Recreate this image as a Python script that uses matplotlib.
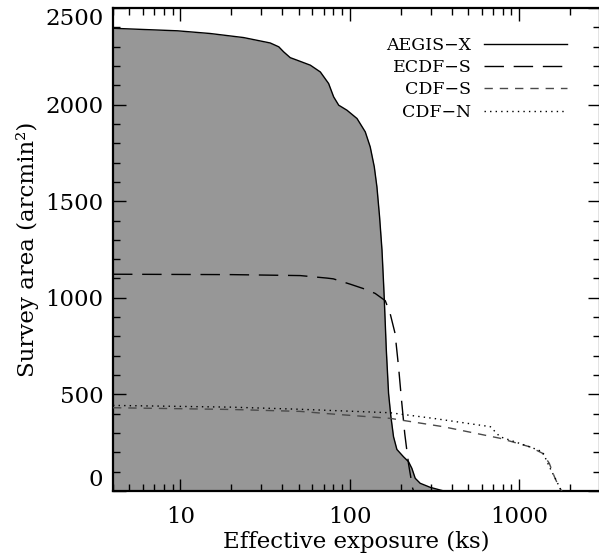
import numpy as np
import matplotlib
matplotlib.use("Agg")
import matplotlib.pyplot as plt
from matplotlib.ticker import FixedLocator, LogLocator, NullFormatter, MultipleLocator

# ---------------- data ----------------
aegis_x = [4.0, 9.6, 15.0, 23.6, 33.9, 38.1, 40.7, 44.5, 48.8, 58.5, 67.0, 75.0, 80.3,
           86.0, 96.2, 110.3, 123.4, 132.0, 139.5, 144.6, 149.9, 154.9, 158.3, 159.9,
           164.3, 169.4, 174.9, 181.2, 189.7, 207.6, 222.1, 232.6, 243.3, 260.3, 298.3,
           341.7, 360.0]
aegis_y = [2395, 2382, 2368, 2347, 2319, 2299, 2273, 2243, 2230, 2204, 2169, 2109, 2040,
           1997, 1971, 1928, 1859, 1781, 1678, 1574, 1419, 1247, 1074, 988,
           729, 505, 384, 281, 215, 177, 152, 117, 66, 40, 19,
           5, 0]

ecdfs_x = [4.0, 20.0, 51.0, 73.4, 80.0, 101.0, 120.0, 141.0, 162.0, 173.0, 185.0, 194.0,
           202.0, 211.0, 222.0, 235.0, 238.0]
ecdfs_y = [1122, 1120, 1115, 1102, 1098, 1070, 1048, 1023, 985, 919, 816, 643,
           471, 298, 143, 14, 0]

cdfs_x = [4.0, 20.0, 51.0, 80.0, 173.0, 355.0, 770.0, 1151.0, 1375.0, 1506.0, 1614.0,
          1732.0, 1790.0]
cdfs_y = [431, 422, 412, 398, 376, 333, 273, 229, 195, 143, 74, 14, 0]

cdfn_x = [4.0, 20.0, 51.0, 173.0, 311.0, 675.0, 770.0, 1151.0, 1375.0, 1506.0, 1650.0,
          1765.0, 1790.0]
cdfn_y = [443, 434, 423, 405, 376, 333, 281, 229, 203, 126, 57, 5, 0]

labels = ["AEGIS\u2212X", "ECDF\u2212S", "CDF\u2212S", "CDF\u2212N"]
xtick_vals = [10, 100, 1000]
xtick_labels = ["10", "100", "1000"]
ytick_vals = [0, 500, 1000, 1500, 2000, 2500]

# ---------------- figure ----------------
plt.rcParams["font.family"] = ["DejaVu Serif"]
fig = plt.figure(figsize=(5.99, 5.60), dpi=100)
ax = fig.add_axes([113 / 599, 69 / 560, 487 / 599, 483 / 560])

ax.fill_between(aegis_x, aegis_y, 0, color="#979797", lw=0, zorder=1)
ax.plot(aegis_x, aegis_y, color="black", lw=1.0, label=labels[0], zorder=3)
ax.plot(ecdfs_x, ecdfs_y, color="black", lw=1.0, dashes=(14, 7), label=labels[1], zorder=3)
ax.plot(cdfs_x, cdfs_y, color="#4a4a4a", lw=1.0, dashes=(6, 5), label=labels[2], zorder=3)
ax.plot(cdfn_x, cdfn_y, color="black", lw=1.0, dashes=(1, 3), label=labels[3], zorder=3)

ax.set_xscale("log")
ax.set_xlim(4.0, 3000)
ax.set_ylim(0, 2500)

ax.xaxis.set_major_locator(FixedLocator(xtick_vals))
ax.set_xticklabels(xtick_labels)
ax.xaxis.set_minor_locator(LogLocator(base=10, subs=np.arange(2, 10)))
ax.xaxis.set_minor_formatter(NullFormatter())
ax.yaxis.set_major_locator(FixedLocator(ytick_vals))
ax.yaxis.set_minor_locator(MultipleLocator(100))

ax.tick_params(which="both", direction="in", top=True, right=True, width=1.0)
ax.tick_params(which="major", length=9, labelsize=16.5)
ax.tick_params(which="minor", length=5)
ax.tick_params(axis="x", which="major", pad=11)
ax.tick_params(axis="y", which="major", pad=7)

for s in ax.spines.values():
    s.set_linewidth(1.6)

ylabs = ax.get_yticklabels()
ylabs[0].set_va("bottom")
ylabs[-1].set_va("top")

ax.set_xlabel("Effective exposure (ks)", fontsize=16.5, labelpad=2)
ax.set_ylabel("Survey area (arcmin\u00b2)", fontsize=16.5, labelpad=4)

leg = ax.legend(loc="upper right", bbox_to_anchor=(0.932, 0.94), frameon=False,
                markerfirst=False, fontsize=12.5, handlelength=4.8, handletextpad=0.7,
                labelspacing=0.3, borderpad=0, borderaxespad=0)

fig.savefig("out.png", dpi=100)
